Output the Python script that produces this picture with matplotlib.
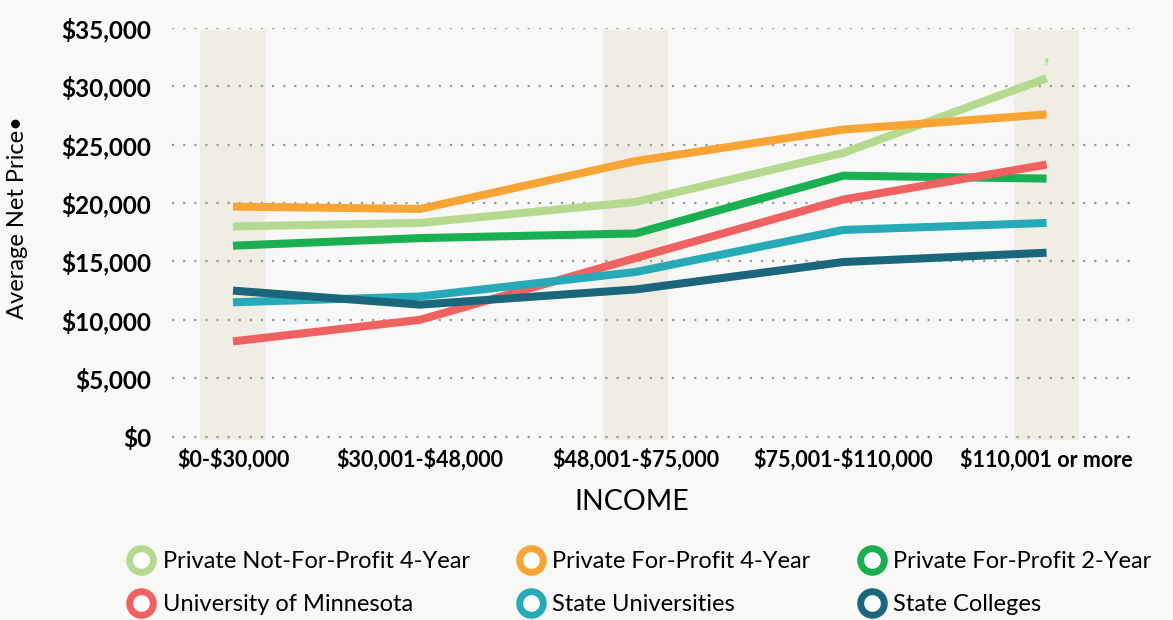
import matplotlib
matplotlib.use("Agg")
import matplotlib.pyplot as plt
from matplotlib.lines import Line2D

# categories on the x axis
ingresos = ["$0-$30,000", "$30,001-$48,000", "$48,001-$75,000", "$75,001-$110,000", "$110,001 or more"]
xpos = [0, 0.92, 1.98, 3.0, 4.0]

# average net price per series
priv_nfp_4 = [18000, 18300, 20100, 24300, 30700]
priv_fp_4 = [19700, 19500, 23600, 26300, 27600]
priv_fp_2 = [16350, 17000, 17400, 22350, 22100]
umn = [8150, 10000, 15300, 20300, 23300]
state_univ = [11500, 12000, 14100, 17700, 18300]
state_coll = [12500, 11300, 12600, 14950, 15750]

nombres = ["Private Not-For-Profit 4-Year", "Private For-Profit 4-Year", "Private For-Profit 2-Year",
           "University of Minnesota", "State Universities", "State Colleges"]
series = [priv_nfp_4, priv_fp_4, priv_fp_2, umn, state_univ, state_coll]
colores = ["#b5d98f", "#f9a535", "#1aaf50", "#f06262", "#26aab8", "#1a667c"]

yticks = [0, 5000, 10000, 15000, 20000, 25000, 30000, 35000]
ytick_labels = ["$0", "$5,000", "$10,000", "$15,000", "$20,000", "$25,000", "$30,000", "$35,000"]

plt.rcParams["font.family"] = ["Lato", "DejaVu Sans"]
fondo = "#f8f8f6"

fig = plt.figure(figsize=(11.73, 6.2), dpi=100, facecolor=fondo)
ax = fig.add_axes([0.1466, 0.2903, 0.8167, 0.6645], facecolor=fondo)

# bandas sombreadas
for i in [0, 2, 4]:
    ax.axvspan(xpos[i] - 0.16, xpos[i] + 0.16, ymin=0, ymax=0.995, color="#f0ede5", lw=0, zorder=0)

for ys, c in zip(series, colores):
    ax.plot(xpos, ys, color=c, lw=5.8, solid_capstyle="butt", solid_joinstyle="miter", zorder=3)

ax.text(4.0, 31800, ",", color=colores[0], fontsize=17, fontweight="bold", ha="center", va="bottom", zorder=3)

ax.set_xlim(-0.30, 4.41)
ax.set_ylim(-300, 35000)
ax.set_yticks(yticks)
ax.set_yticklabels(ytick_labels, fontsize=17.5, fontweight="bold", parse_math=False)
ax.set_xticks(xpos)
ax.set_xticklabels(ingresos, fontsize=15.5, fontweight="bold", parse_math=False)
ax.tick_params(axis="y", length=0, pad=15)
ax.tick_params(axis="x", length=0, pad=6)
ax.yaxis.grid(True, color="#9a9a9a", lw=1.6, linestyle=(0, (1, 4)), zorder=1)
ax.set_axisbelow(True)
for s in ax.spines.values():
    s.set_visible(False)

fig.text(18 / 1173, 1 - 218 / 620, "Average Net Price•", rotation=90, fontsize=17,
         ha="center", va="center")
fig.text(632 / 1173, 1 - 502 / 620, "INCOME", fontsize=20.5, ha="center", va="center")

# leyenda por filas: matplotlib llena por columnas, asi que se reordena
orden = [0, 3, 1, 4, 2, 5]
handles = [Line2D([], [], lw=0, marker="o", markersize=17, markerfacecolor="white",
                  markeredgecolor=colores[i], markeredgewidth=5) for i in orden]
fig.legend(handles, [nombres[i] for i in orden], ncol=3, loc="center",
           bbox_to_anchor=(0.545, 1 - 583 / 620),
           frameon=False, fontsize=17, handletextpad=0.3, columnspacing=2.0,
           labelspacing=0.95, handlelength=1.2)

plt.savefig("out.png", dpi=100, facecolor=fondo)
